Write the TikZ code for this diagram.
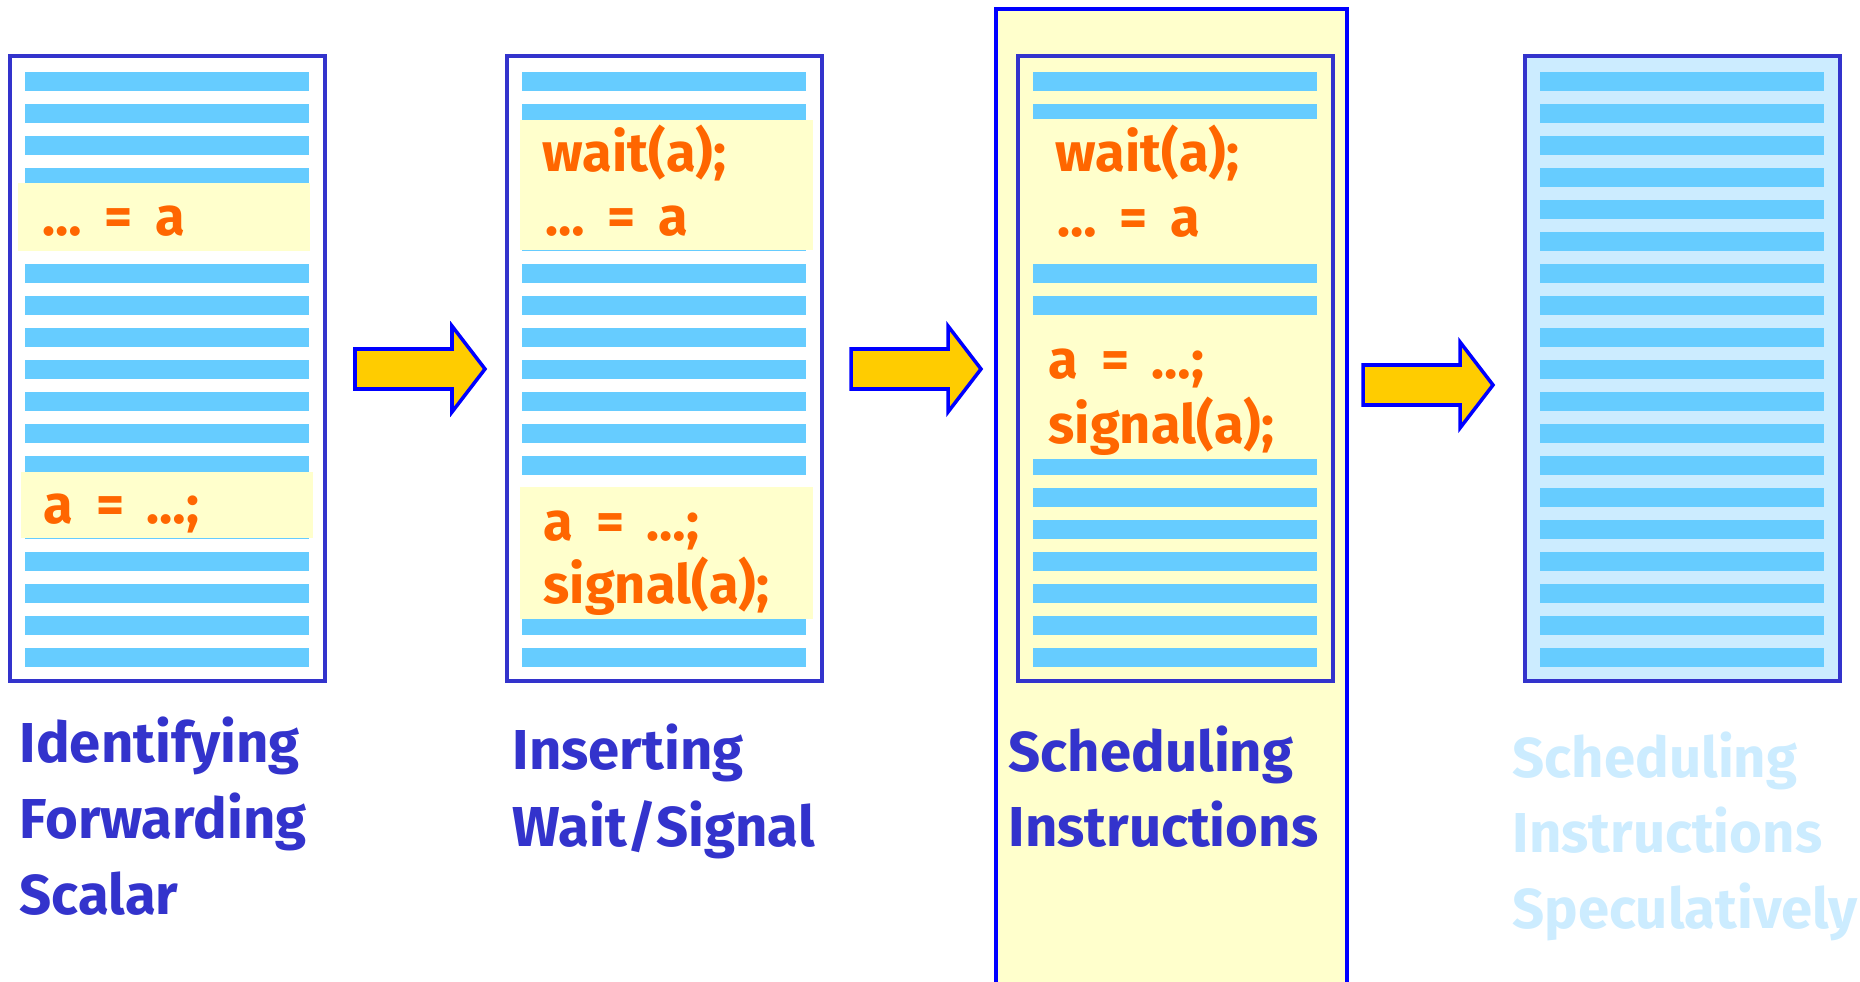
\documentclass[tikz,border=0pt]{standalone}
\usepackage{fontspec}
\setmainfont{Fira Sans}
\usepackage{tikz}

\definecolor{panelblue}{HTML}{3333CC}
\definecolor{stripeblue}{HTML}{66CCFF}
\definecolor{paleblue}{HTML}{CCECFF}
\definecolor{codebg}{HTML}{FFFFCC}
\definecolor{codeorange}{HTML}{FF6600}
\definecolor{arrowgold}{HTML}{FFCC00}
\definecolor{brightblue}{HTML}{0000FF}

\begin{document}
\begin{tikzpicture}[x=0.01cm, y=-0.01cm,
    panel/.style={draw=panelblue, line width=0.9pt},
    stripe/.style={fill=stripeblue},
    codebox/.style={fill=codebg},
    code/.style={anchor=base west, inner sep=0pt, text=codeorange,
      font=\fontsize{15.4}{18}\selectfont\bfseries,
      execute at begin node={\spaceskip=0.42em\relax}},
    caption/.style={anchor=base west, inner sep=0pt, text=panelblue,
      font=\fontsize{16}{19}\selectfont\bfseries},
    blockarrow/.style={fill=arrowgold, draw=brightblue, line width=1pt, line join=miter}]
    \useasboundingbox (0,0) rectangle (1860,982);

    % highlighted third step
    \fill[codebg] (996,9) rectangle (1347,982);
    \draw[brightblue, line width=0.9pt] (996,982) -- (996,9) -- (1347,9) -- (1347,982);

    % the four code listings
    \foreach \x/\bg in {10/white, 507/white, 1018/codebg, 1525/paleblue} {
        \fill[\bg] (\x,56) rectangle ++(315,625);
        \foreach \k in {0,...,18}
            \fill[stripe] (\x+15,72+32*\k) rectangle ++(284,19);
    }

    \fill[codebox] (18,183) rectangle (310,251);
    \fill[codebox] (21,472) rectangle (313,538);
    \fill[codebox] (520,120) rectangle (813,250);
    \fill[codebox] (520,487) rectangle (813,619);
    \fill[codebox] (1033,119) rectangle (1318,251);
    \fill[codebox] (1033,327) rectangle (1318,459);

    \foreach \x in {10,507,1018,1525}
        \draw[panel] (\x,56) rectangle ++(315,625);

    \node[code] (readA) at (42,236) {… = a};
    \node[code] (writeA) at (43,523) {a = …;};

    \node[code] (waitB) at (542,172) {wait(a);};
    \node[code] (readB) at (545,236) {… = a};
    \node[code] (writeB) at (543,540) {a = …;};
    \node[code] (signalB) at (543,603) {signal(a);};

    \node[code] (waitC) at (1055,172) {wait(a);};
    \node[code] (readC) at (1057,237) {… = a};
    \node[code] (writeC) at (1048,379) {a = …;};
    \node[code] (signalC) at (1048,443) {signal(a);};

    % arrows between steps
    \foreach \x/\y in {355/349, 851/349, 1363/365}
        \filldraw[blockarrow] (\x,\y) -- ++(97,0) -- ++(0,-23) -- ++(33,43)
            -- ++(-33,43) -- ++(0,-23) -- ++(-97,0) -- cycle;

    % step captions
    \node[caption] (capA1) at (19,762) {Identifying};
    \node[caption] (capA2) at (19,838) {Forwarding};
    \node[caption] (capA3) at (19,914) {Scalar};

    \node[caption] (capB1) at (512,769) {Inserting};
    \node[caption] (capB2) at (512,846) {Wait/Signal};

    \node[caption] (capC1) at (1008,771) {Scheduling};
    \node[caption] (capC2) at (1008,846) {Instructions};

    \node[caption, text=paleblue] (capD1) at (1512,777) {Scheduling};
    \node[caption, text=paleblue] (capD2) at (1512,852) {Instructions};
    \node[caption, text=paleblue] (capD3) at (1512,928) {Speculatively};
\end{tikzpicture}
\end{document}
